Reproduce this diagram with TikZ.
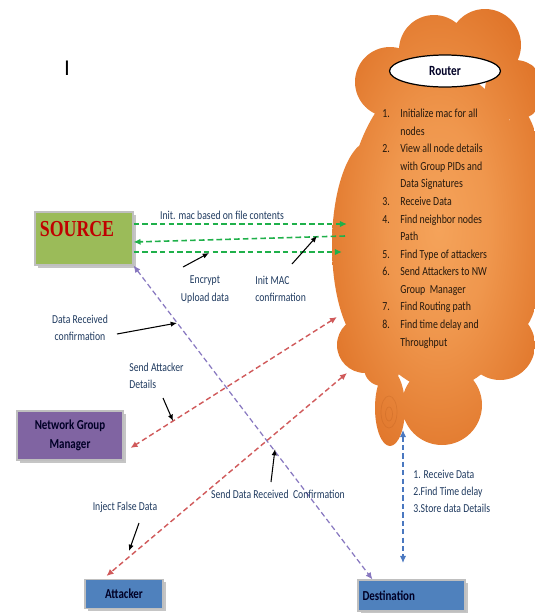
\documentclass[tikz,border=0pt]{standalone}
\usepackage{fontspec}
\setmainfont{Carlito}[FakeStretch=0.8]
\newfontfamily\srcfont{Liberation Serif}[FakeStretch=0.78]
\newfontfamily\curfont{Liberation Sans}
\usetikzlibrary{arrows.meta,shapes.geometric,shadows}

\definecolor{srcgreen}{HTML}{9BBB59}
\definecolor{ngmpurple}{HTML}{8064A2}
\definecolor{boxblue}{HTML}{4F81BD}
\definecolor{arrgreen}{HTML}{1FB04A}
\definecolor{arrred}{HTML}{D0595A}
\definecolor{arrpurple}{HTML}{8878C0}
\definecolor{arrblue}{HTML}{4A78C0}
\definecolor{lbltext}{HTML}{1F3A5F}
\definecolor{cloudlight}{HTML}{F5A35A}
\definecolor{clouddark}{HTML}{D9661A}
\definecolor{srcred}{HTML}{C00000}
\pgfdeclareradialshading{cloudshade}{\pgfpoint{0bp}{0bp}}{%
  color(0bp)=(cloudlight); color(12bp)=(cloudlight!80!clouddark);
  color(32bp)=(clouddark!85!cloudlight); color(50bp)=(clouddark); color(100bp)=(clouddark)}

\begin{document}
\begin{tikzpicture}[x=0.02cm, y=0.02cm,
  every node/.style={inner sep=0pt},
  box/.style={draw=white!75!black, line width=0.6pt,
    drop shadow={shadow xshift=1.6pt, shadow yshift=-1.6pt, fill=black!45, opacity=0.5}},
  lbl/.style={text=lbltext, font=\fontsize{6.9}{9.8}\selectfont, align=center},
  boxtext/.style={text=black!85!blue, font=\fontsize{7.8}{11.2}\selectfont\bfseries, align=center},
  garrow/.style={arrgreen, line width=0.9pt, dash pattern=on 3.2pt off 1.8pt, -{Latex[length=4pt,width=3.6pt]}},
  rarrow/.style={arrred, line width=0.8pt, dash pattern=on 3pt off 1.8pt, {Latex[length=4pt,width=3.6pt]}-{Latex[length=4pt,width=3.6pt]}},
  parrow/.style={arrpurple, line width=0.7pt, dash pattern=on 3pt off 1.8pt, {Latex[length=4pt,width=3.6pt]}-{Latex[length=4pt,width=3.6pt]}},
  barrow/.style={arrblue, line width=0.7pt, dash pattern=on 3pt off 1.8pt, {Latex[length=4pt,width=3.6pt]}-{Latex[length=4pt,width=3.6pt]}},
  ptr/.style={black, line width=0.6pt, -{Latex[length=3.6pt,width=3pt]}}]
\useasboundingbox (0,0) rectangle (535,-613);

% router cloud
\begin{scope}
\clip (0,0) rectangle (535,-613);
\shade[shading=cloudshade]
  (390,-82) circle (35) (434,-50) circle (35) (485,-45) circle (36)
  (515,-90) circle (30) (440,-230) ellipse (95 and 160)
  (372,-245) ellipse (40 and 105) (365,-345) circle (28) (382,-368) circle (18)
  (442,-405) circle (40) (500,-345) circle (35) (520,-220) ellipse (25 and 110)
  (390,-408) ellipse (15 and 38);
\end{scope}
\draw[clouddark!75!black, line width=0.4pt, opacity=0.2] (389,-412) ellipse (8 and 16);
\draw[clouddark!75!black, line width=0.4pt, opacity=0.2] (389,-414) ellipse (3.5 and 7);

\node[ellipse, draw=black, line width=0.7pt, fill=white, minimum width=2.22cm, minimum height=0.64cm,
  font=\fontsize{8}{8}\selectfont\bfseries, text=black!85!blue] (router) at (445,-71) {Router};
\node[anchor=north west, text=black!80!brown, font=\fontsize{7}{10}\selectfont] (steps) at (382,-105) {%
  \begin{tabular}{@{}l@{\hspace{6pt}}l@{}}
  1. & Initialize mac for all\\
     & nodes\\
  2. & View all node details\\
     & with Group PIDs and\\
     & Data Signatures\\
  3. & Receive Data\\
  4. & Find neighbor nodes\\
     & Path\\
  5. & Find Type of attackers\\
  6. & Send Attackers to NW\\
     & Group\ \ Manager\\
  7. & Find Routing path\\
  8. & Find time delay and\\
     & Throughput
  \end{tabular}};

% cloud edge points
\coordinate (rin1) at (347,-224);
\coordinate (rin2) at (345,-236);
\coordinate (rin3) at (342,-252);
\coordinate (rA) at (337,-317);
\coordinate (rB) at (347,-373);
\coordinate (rC) at (403,-430);
\coordinate (dC) at (403,-563);

% boxes
\node[box, fill=srcgreen, minimum width=1.96cm, minimum height=1.06cm] (source) at (84,-238.5) {};
\node[text=srcred, font=\srcfont\fontsize{13}{13}\selectfont\bfseries] (srctxt) at (77,-229) {SOURCE};
\node[box, boxtext, fill=ngmpurple, minimum width=2.12cm, minimum height=0.98cm] (ngm) at (70,-435.5) {Network Group\\Manager};
\node[box, boxtext, fill=boxblue, minimum width=1.56cm, minimum height=0.58cm] (atk) at (124,-594) {Attacker};
\node[box, boxtext, fill=boxblue, minimum width=2.14cm, minimum height=0.62cm, text width=1.96cm, align=left] (dest) at (411.5,-595.5) {Destination};

\node[font=\curfont\fontsize{12}{12}\selectfont] (cursor) at (67,-68) {I};

% dashed links
\draw[garrow] (source.east |- rin1) -- (rin1);
\draw[garrow] (rin2) -- ([yshift=-0.07cm]source.east);
\draw[garrow] (source.east |- rin3) -- (rin3);
\draw[parrow] (source.south east) -- ([xshift=0.3cm]dest.north west);
\draw[rarrow] (rA) -- ([xshift=0.14cm,yshift=-0.25cm]ngm.east);
\draw[rarrow] (rB) -- ([xshift=0.44cm,yshift=0.06cm]atk.north west);
\draw[barrow] (rC) -- (dC);

% labels
\node[lbl] (initl) at (222,-215) {Init. mac based on file contents};
\node[lbl] (encl) at (205,-289.5) {Encrypt\\Upload data};
\node[lbl, anchor=west, align=left] (imcl) at (255,-289) {Init MAC\\confirmation};
\node[lbl] (drcl) at (80,-327.5) {Data Received\\confirmation};
\node[lbl, anchor=west, align=left] (sadl) at (129,-376) {Send Attacker\\Details};
\node[lbl] (sdrl) at (278,-494) {Send Data Received\ \ Confirmation};
\node[lbl] (ifdl) at (125,-507) {Inject False Data};
\node[lbl, anchor=west, align=left] (dstl) at (413,-491.5) {1. Receive Data\\2.Find Time delay\\3.Store data Details};

% pointer arrows
\coordinate (p1) at (209,-253);
\coordinate (p2) at (317,-236);
\coordinate (p3) at (177,-323);
\coordinate (p4) at (173,-421);
\coordinate (p5) at (275,-449);
\coordinate (p6) at (129,-551);
\draw[ptr] (183,-267) -- (p1);
\draw[ptr] (292,-264) -- (p2);
\draw[ptr] (117,-334) -- (p3);
\draw[ptr] (163,-398) -- (p4);
\draw[ptr] (271,-482) -- (p5);
\draw[ptr] (139,-523) -- (p6);
\end{tikzpicture}
\end{document}
